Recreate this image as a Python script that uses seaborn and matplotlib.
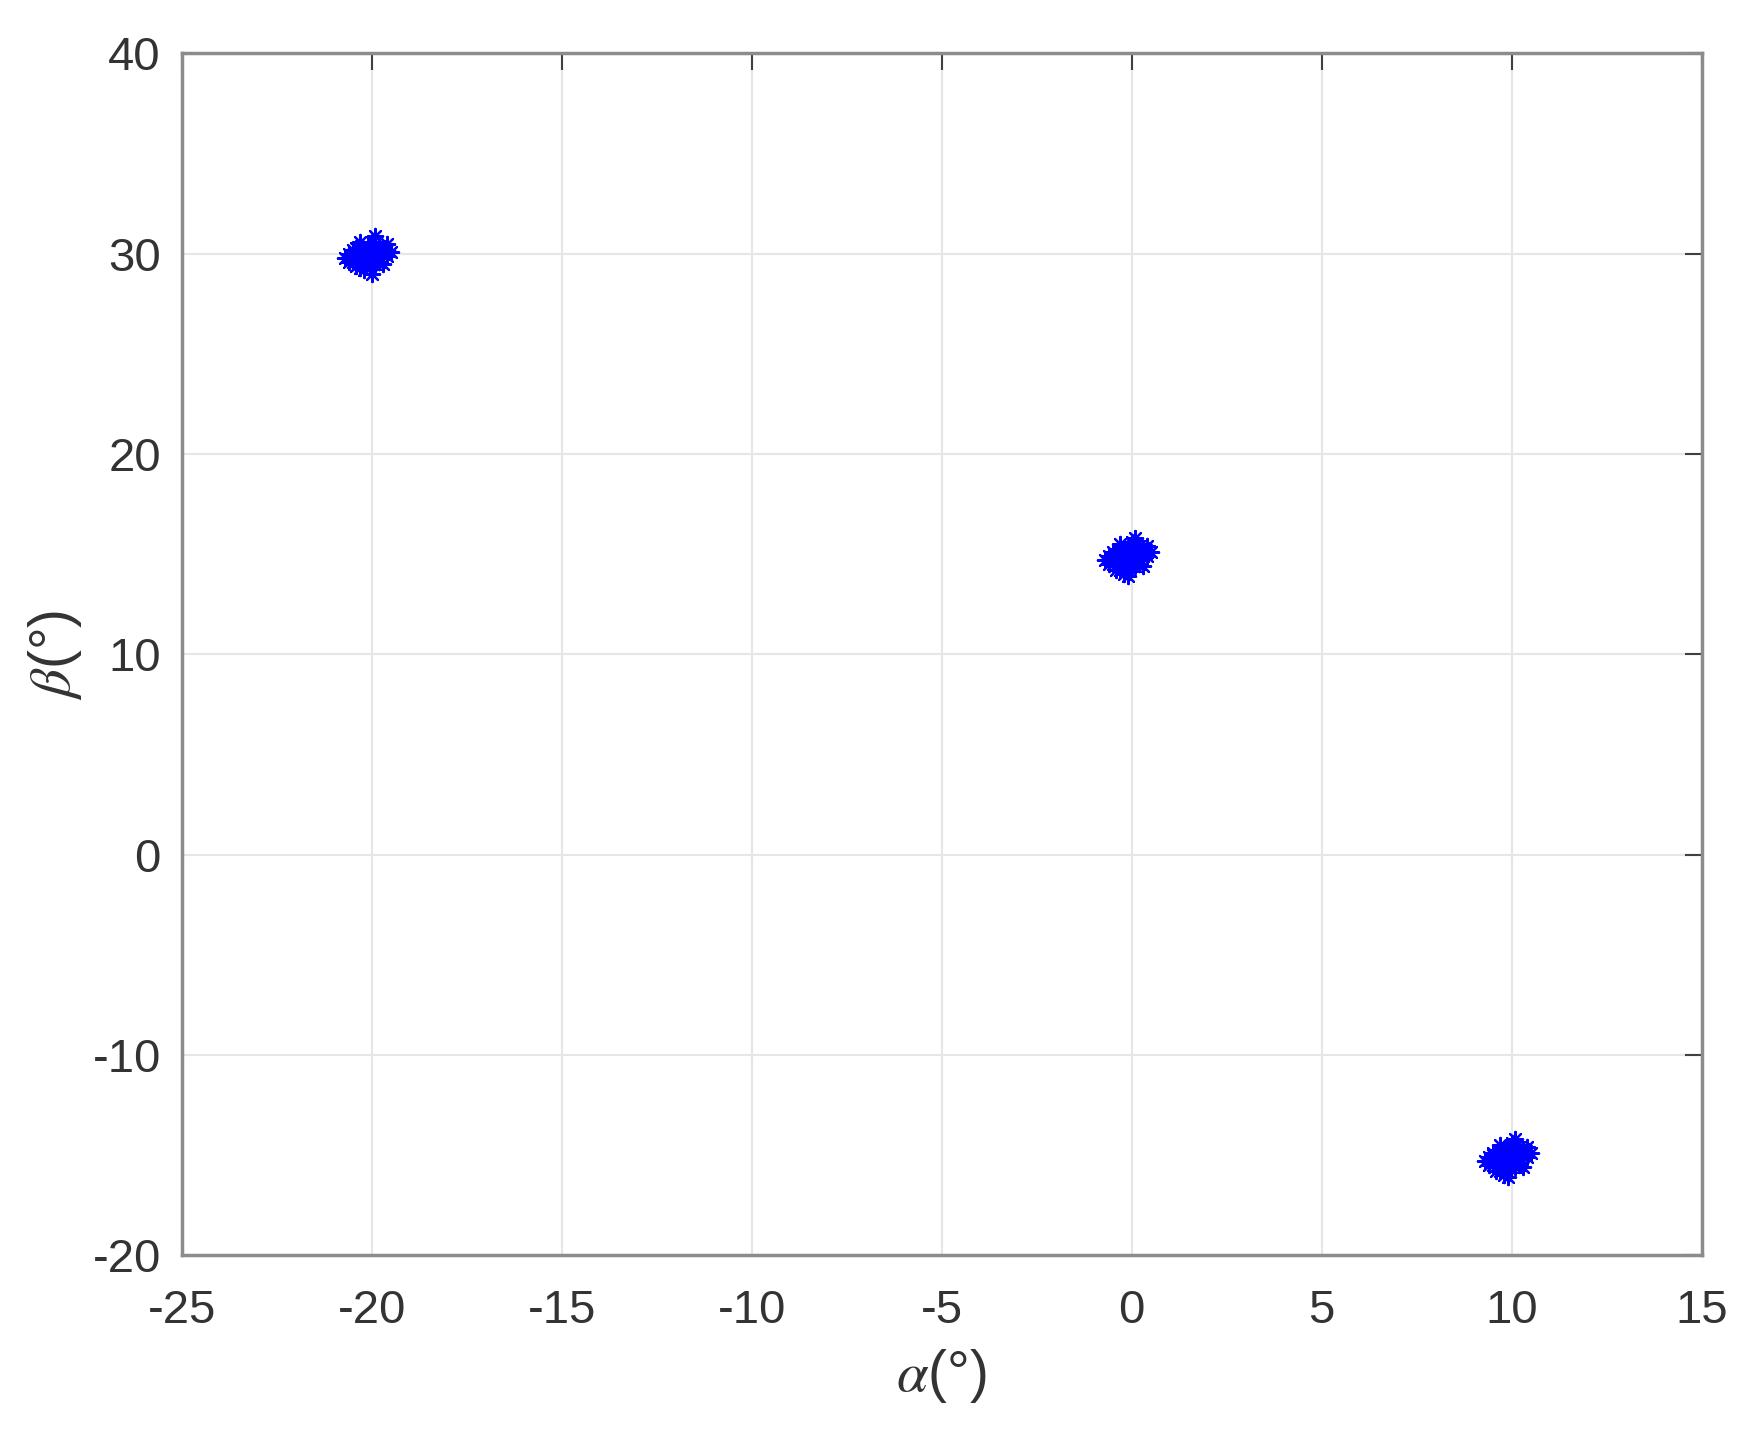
import numpy as np
import pandas as pd
import matplotlib
matplotlib.use("Agg")
import matplotlib.pyplot as plt
import seaborn as sns

# estimated DOA samples, three clusters (alpha, beta) in degrees
alpha_a = [-20.1, -20.5, -19.7, -20.3, -19.9, -20.6, -19.6, -20.0, -20.4, -19.8,
           -20.2, -19.5, -20.7, -20.0, -20.3, -19.7, -20.5, -19.9, -20.2, -19.6,
           -20.4, -20.0, -19.8, -20.6, -20.1, -20.3, -19.9, -20.2,
           -20.0, -20.2, -19.8, -20.1, -19.9, -20.3, -19.7, -20.0, -20.2, -19.9,
           -20.1, -19.8, -20.4, -19.6, -20.0, -20.2]
beta_a = [29.9, 29.6, 30.3, 30.2, 29.5, 30.0, 29.9, 30.6, 29.4, 30.4,
          29.2, 30.1, 29.8, 29.0, 30.6, 29.5, 30.2, 30.9, 29.7, 30.5,
          29.9, 30.0, 29.6, 29.6, 30.4, 29.3, 30.1, 30.0,
          30.0, 30.2, 29.8, 29.7, 30.3, 30.1, 30.0, 29.5, 29.9, 30.5,
          30.3, 29.6, 30.3, 30.2, 29.8, 29.5]

alpha_b = [-0.1, -0.5, 0.3, -0.3, 0.1, -0.6, 0.4, 0.0, -0.4, 0.2,
           -0.2, 0.5, -0.7, -0.1, -0.3, 0.3, -0.5, 0.1, -0.2, 0.4,
           -0.4, 0.0, 0.2, -0.6, -0.1, -0.3, 0.1, 0.2,
           0.0, -0.2, 0.2, -0.1, 0.1, -0.3, 0.3, 0.0, -0.2, 0.1,
           -0.1, 0.2, -0.4, 0.4, 0.0, -0.2]
beta_b = [14.8, 14.5, 15.3, 15.1, 14.4, 14.9, 14.9, 15.6, 14.2, 15.4,
          14.0, 15.1, 14.7, 13.9, 15.5, 14.4, 15.1, 15.8, 14.6, 15.4,
          14.8, 14.9, 14.5, 14.5, 15.3, 14.2, 15.0, 14.8,
          14.9, 15.1, 14.7, 14.6, 15.2, 15.0, 14.9, 14.4, 14.8, 15.4,
          15.2, 14.5, 15.0, 15.1, 14.7, 14.4]

alpha_c = [9.9, 9.5, 10.3, 9.7, 10.1, 9.4, 10.4, 10.0, 9.6, 10.2,
           9.8, 10.5, 9.3, 9.9, 9.7, 10.3, 9.5, 10.1, 9.8, 10.4,
           9.6, 10.0, 10.2, 9.4, 9.9, 9.7, 10.1, 10.2,
           9.9, 9.7, 10.1, 9.8, 10.0, 9.6, 10.2, 9.9, 9.7, 10.0,
           9.8, 10.1, 9.5, 10.3, 9.9, 9.7]
beta_c = [-15.2, -15.5, -14.7, -14.9, -15.6, -15.1, -15.1, -14.4, -15.8, -14.6,
          -16.0, -14.9, -15.3, -16.1, -14.5, -15.6, -14.9, -14.2, -15.4, -14.6,
          -15.2, -15.1, -15.5, -15.5, -14.7, -15.8, -15.0, -15.2,
          -15.1, -14.9, -15.3, -15.4, -14.8, -15.0, -15.1, -15.6, -15.2, -14.6,
          -14.8, -15.5, -15.0, -14.9, -15.3, -15.6]

x_ticks = [-25, -20, -15, -10, -5, 0, 5, 10, 15]
y_ticks = [-20, -10, 0, 10, 20, 30, 40]

df = pd.DataFrame({
    "alpha": alpha_a + alpha_b + alpha_c,
    "beta": beta_a + beta_b + beta_c,
})

sns.set_style("white")
plt.rcParams["font.family"] = ["Liberation Sans", "DejaVu Sans"]
plt.rcParams["mathtext.fontset"] = "stix"
plt.rcParams["axes.unicode_minus"] = False

fig = plt.figure(figsize=(17.47, 14.43), dpi=100)
ax = fig.add_axes([0.104, 0.130, 0.870, 0.833])

sns.scatterplot(data=df, x="alpha", y="beta", marker=(8, 2, 0), s=120,
                color="#0000ff", edgecolor="#0000ff", linewidth=1.6, ax=ax)

ax.set_xlim(-25, 15)
ax.set_ylim(-20, 40)
ax.set_xticks(x_ticks)
ax.set_yticks(y_ticks)
ax.grid(True, color="#e6e6e6", linewidth=1.5)
ax.set_axisbelow(True)

for sp in ax.spines.values():
    sp.set_color("#8c8c8c")
    sp.set_linewidth(2.5)

ax.tick_params(direction="in", length=12, width=1.5, color="#404040",
               labelsize=34, labelcolor="#333333", top=True, right=True)
ax.tick_params(axis="x", pad=24)
ax.tick_params(axis="y", pad=15)

ax.set_xlabel(r"$\alpha$(°)", fontsize=41, color="#333333", labelpad=10)
ax.set_ylabel(r"$\beta$(°)", fontsize=41, color="#333333", labelpad=6)

plt.savefig("out.png", dpi=100)
